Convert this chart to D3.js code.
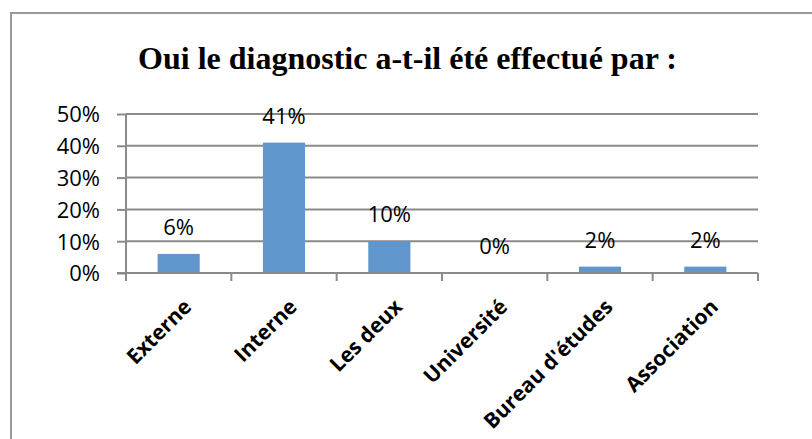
<!DOCTYPE html>
<html>
<head>
<meta charset="utf-8">
<script src="https://cdn.jsdelivr.net/npm/d3@7"></script>
<style>
  body { margin: 0; background: #fff; }
  svg { display: block; }
</style>
</head>
<body>
<svg id="chart" width="812" height="439"></svg>
<script>
const categories = ["Externe", "Interne", "Les deux", "Université", "Bureau d'études", "Association"]
const values = [6, 41, 10, 0, 2, 2]
const yTicks = [0, 10, 20, 30, 40, 50]
const title = "Oui le diagnostic a-t-il été effectué par :"

const width = 812
const height = 439
const plot = { left: 126, right: 758, top: 114, bottom: 273 }
const labelFont = '"Open Sans", sans-serif'

const svg = d3.select('#chart')

// outer frame of the chart object (runs past the picture edges)
svg.append('rect')
  .attr('x', 11).attr('y', 13)
  .attr('width', 820).attr('height', 450)
  .attr('fill', 'none')
  .attr('stroke', '#9a9a9a')
  .attr('stroke-width', 2)

svg.append('text')
  .attr('x', 407.5).attr('y', 69)
  .attr('text-anchor', 'middle')
  .style('font-family', '"Liberation Serif", "Times New Roman", serif')
  .style('font-weight', 'bold')
  .style('font-size', '32px')
  .text(title)

const xScale = d3.scaleBand()
  .domain(categories)
  .range([plot.left, plot.right])
  .paddingInner(0.6)
  .paddingOuter(0.3)

const yScale = d3.scaleLinear()
  .domain([0, 50])
  .range([plot.bottom, plot.top])

// gridlines
svg.append('g')
  .selectAll('line')
  .data(yTicks.slice(1))
  .enter()
  .append('line')
  .attr('x1', plot.left).attr('x2', plot.right)
  .attr('y1', d => yScale(d)).attr('y2', d => yScale(d))
  .attr('stroke', '#8a8a8a')
  .attr('stroke-width', 2)

// bars
svg.append('g')
  .selectAll('rect')
  .data(values)
  .enter()
  .append('rect')
  .attr('x', (d, i) => xScale(categories[i]))
  .attr('y', d => yScale(d))
  .attr('width', xScale.bandwidth())
  .attr('height', d => yScale(0) - yScale(d))
  .attr('fill', '#6096cb')

// data labels
svg.append('g')
  .selectAll('text')
  .data(values)
  .enter()
  .append('text')
  .attr('x', (d, i) => xScale(categories[i]) + xScale.bandwidth() / 2)
  .attr('y', d => yScale(d) - 19)
  .attr('text-anchor', 'middle')
  .style('font-family', labelFont)
  .style('font-size', '22px')
  .attr('fill', '#000')
  .text(d => d + '%')

// y axis
const yAxis = d3.axisLeft(yScale)
  .tickValues(yTicks)
  .tickFormat(d => d + '%')
  .tickSize(9)
  .tickPadding(17)
const yg = svg.append('g')
  .attr('transform', `translate(${plot.left}, 0)`)
  .call(yAxis)
yg.select('.domain').attr('stroke', '#8a8a8a').attr('stroke-width', 2)
  .attr('d', `M0,${plot.top}V${plot.bottom + 1}`)
yg.selectAll('.tick line').attr('stroke', '#8a8a8a').attr('stroke-width', 2)
yg.selectAll('.tick text')
  .style('font-family', labelFont)
  .style('font-size', '22px')
  .attr('fill', '#000')
  .attr('dy', '0.36em')

// x axis with ticks between categories
const xg = svg.append('g')
  .attr('transform', `translate(0, ${plot.bottom})`)
xg.append('line')
  .attr('x1', plot.left - 9).attr('x2', plot.right)
  .attr('stroke', '#8a8a8a').attr('stroke-width', 2)
const bounds = d3.range(categories.length + 1).map(i => plot.left + i * (plot.right - plot.left) / categories.length)
xg.selectAll('line.tk')
  .data(bounds)
  .enter()
  .append('line')
  .attr('class', 'tk')
  .attr('x1', d => d).attr('x2', d => d)
  .attr('y1', 0).attr('y2', 8)
  .attr('stroke', '#8a8a8a').attr('stroke-width', 2)

xg.selectAll('text')
  .data(categories)
  .enter()
  .append('text')
  .attr('transform', d => `translate(${xScale(d) + xScale.bandwidth() / 2 + 6}, 27) rotate(-45)`)
  .attr('text-anchor', 'end')
  .attr('dy', '0.55em')
  .style('font-family', labelFont)
  .style('font-weight', 'bold')
  .style('font-size', '21px')
  .attr('fill', '#000')
  .text(d => d)
</script>
</body>
</html>
